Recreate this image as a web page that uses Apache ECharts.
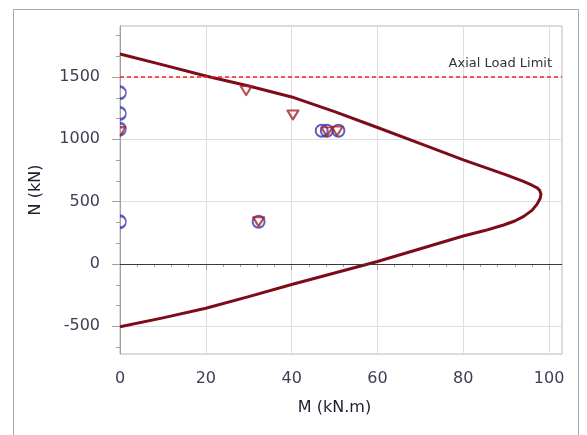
<!DOCTYPE html>
<html>
<head>
<meta charset="utf-8">
<script src="https://cdn.jsdelivr.net/npm/echarts@6/dist/echarts.min.js"></script>
<style>
  html, body { margin: 0; padding: 0; background: #fff; }
  #chart { width: 587px; height: 435px; }
</style>
</head>
<body>
<div id="chart"></div>
<script>
// Interaction diagram: capacity curve (M, N) traced around the section
const curveM = [0, 10, 20, 30, 40, 50, 60, 70, 80, 90, 94, 96, 97.2, 97.8, 98.1, 97.9, 97.2, 96, 94, 92, 89.4, 85, 80, 70, 60, 50, 40, 30, 20, 10, 0];
const curveN = [1685, 1597, 1508, 1428, 1340, 1222, 1095, 965, 835, 715, 662, 632, 610, 590, 560, 525, 480, 430, 380, 345, 313, 268, 225, 122, 20, -72, -165, -262, -355, -432, -503];

// Design load points
const circleM = [0, 0, 0, 0, 32.3, 47, 48.2, 50.9];
const circleN = [1374, 1208, 1082, 339, 339, 1069, 1069, 1069];
const triangleM = [0, 29.4, 40.3, 48.2, 50.6, 32.3];
const triangleN = [1061, 1390, 1195, 1060, 1065, 339];

const axialLimit = 1500;

// Axis ticks
const xMajor = [0, 20, 40, 60, 80, 100];
const xMinor = [4, 8, 12, 16, 24, 28, 32, 36, 44, 48, 52, 56, 64, 68, 72, 76, 84, 88, 92, 96];
const yMajor = [-500, 0, 500, 1000, 1500];
const yMinor = [-666.7, -333.3, -166.7, 166.7, 333.3, 666.7, 833.3, 1166.7, 1333.3, 1666.7, 1833.3];

const xMin = 0, xMax = 103, yMin = -722, yMax = 1909;

const labelColor = '#3d3d55';
const font = 'DejaVu Sans';

// Marker shapes; points lying on the N axis only show the half inside the plot
const CIRCLE = { full: { symbol: 'circle', size: 12, offset: [0, 0] },
                 half: { symbol: 'path://M0,-6 A6,6 0 0 1 0,6', size: [6, 12], offset: [3, 0] } };
const TRIANGLE = { full: { symbol: 'path://M-5.5,0 L5.5,0 L0,9 Z', size: [11, 9], offset: [0, 0] },
                   half: { symbol: 'path://M0,0 L5.5,0 L0,9', size: [5.5, 9], offset: [2.75, 0] } };

function markerData(ms, ns, shape) {
  return ms.map((m, i) => {
    const s = m <= xMin ? shape.half : shape.full;
    return { value: [m, ns[i]], symbol: s.symbol, symbolSize: s.size, symbolOffset: s.offset };
  });
}

const chart = echarts.init(document.getElementById('chart'), null, { renderer: 'canvas' });

const minorAxis = (pos, vals, len) => ({
  type: 'value', min: pos === 'bottom' ? xMin : yMin, max: pos === 'bottom' ? xMax : yMax,
  position: pos, axisLine: { show: false }, axisLabel: { show: false }, splitLine: { show: false },
  axisTick: { show: true, customValues: vals, length: len, lineStyle: { color: '#a0a0a0' } }
});

chart.setOption({
  backgroundColor: '#fff',
  animation: false,
  graphic: [{
    type: 'rect', shape: { x: 13.5, y: 9.5, width: 565, height: 440 },
    style: { fill: 'none', stroke: '#a8a8b2', lineWidth: 1 }, silent: true
  }],
  grid: { left: 120, right: 25, top: 26, bottom: 81, show: true, borderColor: '#b8b8b8', borderWidth: 1 },
  xAxis: [{
    type: 'value', min: xMin, max: xMax, splitNumber: 5,
    name: 'M (kN.m)', nameLocation: 'middle', nameGap: 46,
    nameTextStyle: { fontFamily: font, fontSize: 16, color: '#1e1e2e', padding: [0, 13, 0, 0] },
    axisLine: { show: true, lineStyle: { color: '#a0a0a0' } },
    axisTick: { show: true, customValues: xMajor, length: 6, lineStyle: { color: '#a0a0a0' } },
    axisLabel: { customValues: xMajor, margin: 17, fontFamily: font, fontSize: 16, color: labelColor,
      formatter: v => String(v) },
    splitLine: { show: true, lineStyle: { color: '#dedede' } }
  }, minorAxis('bottom', xMinor, 3)],
  yAxis: [{
    type: 'value', min: yMin, max: yMax, splitNumber: 5,
    name: 'N (kN)', nameLocation: 'middle', nameGap: 76, nameRotate: 90,
    nameTextStyle: { fontFamily: font, fontSize: 16, color: '#1e1e2e' },
    axisLine: { show: true, lineStyle: { color: '#a0a0a0' } },
    axisTick: { show: true, customValues: yMajor, length: 8, lineStyle: { color: '#a0a0a0' } },
    axisLabel: { customValues: yMajor, margin: 20, fontFamily: font, fontSize: 16, color: labelColor,
      formatter: v => String(v) },
    splitLine: { show: true, lineStyle: { color: '#dedede' } }
  }, minorAxis('left', yMinor, 4)],
  series: [
    {
      type: 'line', data: curveM.map((m, i) => [m, curveN[i]]), showSymbol: false, symbol: 'none',
      lineStyle: { color: '#7d0c18', width: 3, join: 'round' }, z: 3,
      markLine: {
        silent: true, symbol: 'none',
        data: [
          { yAxis: 0, lineStyle: { color: '#3a3a3a', width: 1, type: 'solid' }, label: { show: false } },
          {
            yAxis: axialLimit, lineStyle: { color: '#ff1a1a', width: 1.5, type: [4, 3] },
            label: { show: true, position: 'insideEndTop', formatter: 'Axial Load Limit', fontFamily: font, fontSize: 13, color: '#333', distance: [10, 7] }
          }
        ]
      }
    },
    {
      type: 'scatter', data: markerData(circleM, circleN, CIRCLE), z: 4,
      itemStyle: { color: 'rgba(0,0,0,0)', borderColor: '#3535b5', borderWidth: 2 }
    },
    {
      type: 'scatter', data: markerData(triangleM, triangleN, TRIANGLE), z: 5,
      itemStyle: { color: 'rgba(0,0,0,0)', borderColor: '#a52222', borderWidth: 2, borderJoin: 'round' }
    }
  ]
});
</script>
</body>
</html>
